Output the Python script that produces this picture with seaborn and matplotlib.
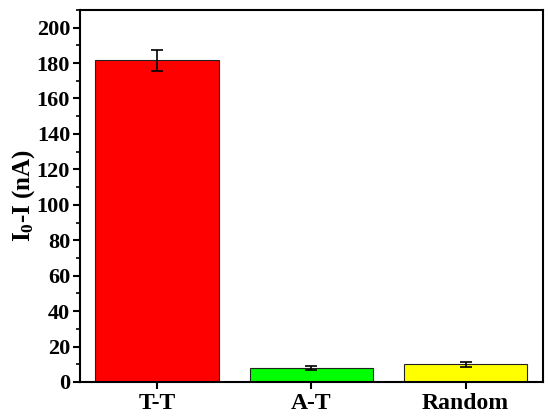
import pandas as pd
import seaborn as sns
import matplotlib.pyplot as plt
from matplotlib.ticker import MultipleLocator

# Datos
categorias = ['T-T', 'A-T', 'Random']
valores = [181.5, 8.0, 10.0]
errores = [6.0, 1.2, 1.5]
colores = ['#ff0000', '#00ff00', '#ffff00']

df = pd.DataFrame({'muestra': categorias, 'valor': valores})

sns.set_style('ticks')
plt.rcParams['font.family'] = ['Liberation Serif', 'DejaVu Serif']
plt.rcParams['font.weight'] = 'bold'
plt.rcParams['text.color'] = 'black'
plt.rcParams['axes.labelcolor'] = 'black'
plt.rcParams['xtick.color'] = 'black'
plt.rcParams['ytick.color'] = 'black'
plt.rcParams['mathtext.fontset'] = 'custom'
plt.rcParams['mathtext.rm'] = 'Liberation Serif:bold'
plt.rcParams['mathtext.it'] = 'Liberation Serif:bold'
plt.rcParams['mathtext.bf'] = 'Liberation Serif:bold'

fig = plt.figure(figsize=(5.5, 4.2), dpi=100)
ax = fig.add_axes([0.145, 0.0905, 0.842, 0.886])

sns.barplot(data=df, x='muestra', y='valor', hue='muestra', palette=colores,
            saturation=1, legend=False, width=0.8, edgecolor='#222222',
            linewidth=0.8, errorbar=None, ax=ax)
ax.errorbar(range(len(categorias)), valores, yerr=errores, fmt='none',
            ecolor='black', elinewidth=1.2, capsize=4, capthick=1.2)

ax.set_xlim(-0.5, 2.5)
ax.set_ylim(0, 210)
ax.yaxis.set_major_locator(MultipleLocator(20))
ax.yaxis.set_minor_locator(MultipleLocator(10))
ax.set_xlabel('')
ax.set_ylabel(r'I$_0$-I (nA)', fontsize=18, fontweight='bold', labelpad=0)

for s in ax.spines.values():
    s.set_linewidth(1.5)
    s.set_color('black')
    s.set_visible(True)

ax.tick_params(axis='y', which='major', direction='out', length=5, width=1.5,
               labelsize=16, pad=2)
ax.tick_params(axis='y', which='minor', direction='out', length=3, width=1.2)
ax.tick_params(axis='x', which='major', direction='out', length=5, width=1.5,
               labelsize=17, pad=3)
for lbl in ax.get_xticklabels() + ax.get_yticklabels():
    lbl.set_fontweight('bold')

fig.savefig('out.png', dpi=100)
